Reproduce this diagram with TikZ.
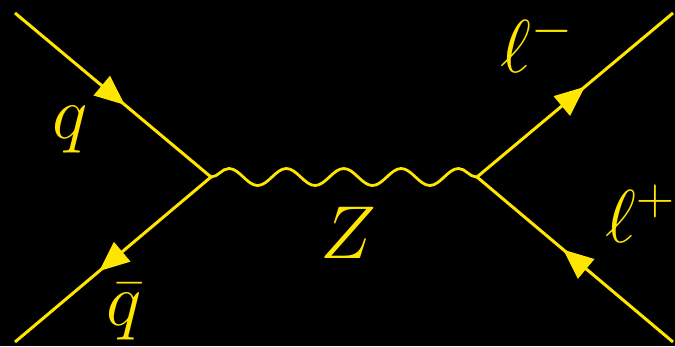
\RequirePackage{fix-cm}
\documentclass[tikz,border=0pt]{standalone}
\usetikzlibrary{arrows.meta,decorations.markings,decorations.pathmorphing}
\definecolor{fy}{RGB}{255,230,0}
\tikzset{
  fermion/.style={draw=fy, line width=3pt, postaction={decorate},
    decoration={markings, mark=at position #1 with {\arrow{Triangle[length=30pt,width=25pt]}}}},
  photon/.style={draw=fy, line width=2.8pt, decorate,
    decoration={snake, segment length=57.4pt, amplitude=8.5pt}},
  lbl/.style={text=fy, inner sep=0pt, anchor=base, font=\fontsize{75}{80}\selectfont}
}
\begin{document}
\begin{tikzpicture}[x=1pt,y=-1pt]
\useasboundingbox (0,0) rectangle (675,346);
\fill[black] (0,0) rectangle (675,346);
\coordinate (v1) at (211,177);
\coordinate (v2) at (477,177);
\coordinate (a) at (15,13);
\coordinate (b) at (15,342);
\coordinate (c) at (673,13);
\coordinate (d) at (673,342);
\draw[fermion=0.56] (a) -- (v1);
\draw[fermion=0.57] (v1) -- (b);
\draw[fermion=0.55] (v2) -- (c);
\draw[fermion=0.56] (d) -- (v2);
\draw[photon] (v1) -- (v2);
\node[lbl] (lq) at (70,138) {$q$};
\node[lbl] (lqb) at (124,325) {$\bar q$};
\node[lbl] (lz) at (348,258) {$Z$};
\node[lbl] (llm) at (537,72) {$\ell^-$};
\node[lbl] (llp) at (640,242) {$\ell^+$};
\end{tikzpicture}
\end{document}
